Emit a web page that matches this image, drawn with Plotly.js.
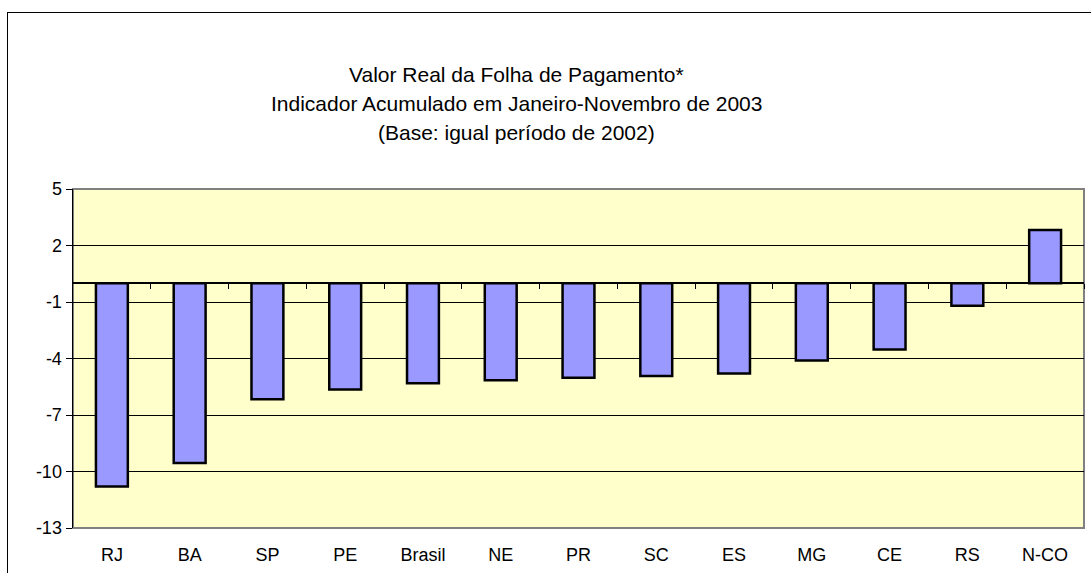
<!DOCTYPE html>
<html>
<head>
<meta charset="utf-8">
<script src="https://cdn.plot.ly/plotly-3.0.1.min.js"></script>
<style>
html,body{margin:0;padding:0;overflow:hidden;background:#fff;}
#frame{position:absolute;left:7px;top:12px;width:1200px;height:700px;border:1.5px solid #000;}
#chart{position:absolute;left:0;top:0;width:1091px;height:573px;}
</style>
</head>
<body>
<div id="frame"></div>
<div id="chart"></div>
<script>
const categories = ["RJ","BA","SP","PE","Brasil","NE","PR","SC","ES","MG","CE","RS","N-CO"];
const values = [-10.8, -9.55, -6.17, -5.65, -5.32, -5.16, -5.02, -4.93, -4.79, -4.1, -3.52, -1.2, 2.82];
const yTicks = [5, 2, -1, -4, -7, -10, -13];
const titleLines = ["Valor Real da Folha de Pagamento*", "Indicador Acumulado em Janeiro-Novembro de 2003", "(Base: igual período de 2002)"];

const FONT = "Liberation Sans, Arial, sans-serif";

// category boundaries for the tick marks on the zero line
const boundaries = categories.slice(1).map((c, i) => i + 0.5).concat([categories.length - 0.5]);

const traces = [
  {
    type: "bar",
    x: categories,
    y: values,
    marker: {color: "#9999FF", line: {color: "#000000", width: 2.5}},
    width: 0.41,
    hoverinfo: "x+y"
  },
  {
    type: "scatter",
    x: categories.map((c, i) => i),
    y: categories.map(() => null),
    xaxis: "x2",
    yaxis: "y",
    showlegend: false,
    hoverinfo: "skip"
  }
];

const zeroPos = (0 - (-13)) / (5 - (-13));
const plotTop = 189, plotBottom = 573 - 45, plotH = plotBottom - plotTop;
const titleY = [74, 103.5, 133];

const annotations = titleLines.map((t, i) => ({
  text: t,
  xref: "paper", yref: "paper",
  x: (516 - 73) / (1091 - 73 - 7),
  y: (plotBottom - titleY[i]) / plotH,
  xanchor: "center", yanchor: "middle",
  showarrow: false,
  font: {family: FONT, size: 21, color: "#000"}
}));

const layout = {
  width: 1091,
  height: 573,
  margin: {l: 73, r: 7, t: 189, b: 45},
  paper_bgcolor: "rgba(0,0,0,0)",
  plot_bgcolor: "#FFFFCC",
  showlegend: false,
  font: {family: FONT, color: "#000", size: 18},
  annotations: annotations,
  xaxis: {
    type: "category",
    categoryorder: "array",
    categoryarray: categories,
    range: [-0.5, 12.5],
    showline: false,
    showgrid: false,
    zeroline: false,
    ticks: "",
    ticklabelstandoff: 14,
    tickfont: {family: FONT, size: 18, color: "#000"},
    fixedrange: true
  },
  xaxis2: {
    type: "linear",
    range: [-0.5, 12.5],
    overlaying: "x",
    anchor: "free",
    position: zeroPos,
    side: "bottom",
    showline: false,
    showgrid: false,
    zeroline: false,
    showticklabels: false,
    tickmode: "array",
    tickvals: boundaries,
    ticks: "outside",
    ticklen: 5,
    tickwidth: 1,
    tickcolor: "#000",
    fixedrange: true
  },
  yaxis: {
    range: [-13, 5],
    tickvals: yTicks,
    ticktext: yTicks.map(String),
    showgrid: true,
    gridcolor: "#000",
    gridwidth: 1,
    zeroline: true,
    zerolinecolor: "#000",
    zerolinewidth: 1.5,
    showline: true,
    linecolor: "#000",
    linewidth: 1.5,
    ticks: "outside",
    ticklen: 6,
    tickcolor: "#000",
    tickwidth: 1,
    tickfont: {family: FONT, size: 18, color: "#000"},
    fixedrange: true
  },
  shapes: [
    {
      type: "rect", xref: "paper", yref: "paper",
      x0: 0, x1: 1, y0: 0, y1: 1,
      line: {color: "#808080", width: 2},
      layer: "below"
    }
  ]
};

Plotly.newPlot("chart", traces, layout, {displayModeBar: false, staticPlot: true});
</script>
</body>
</html>
